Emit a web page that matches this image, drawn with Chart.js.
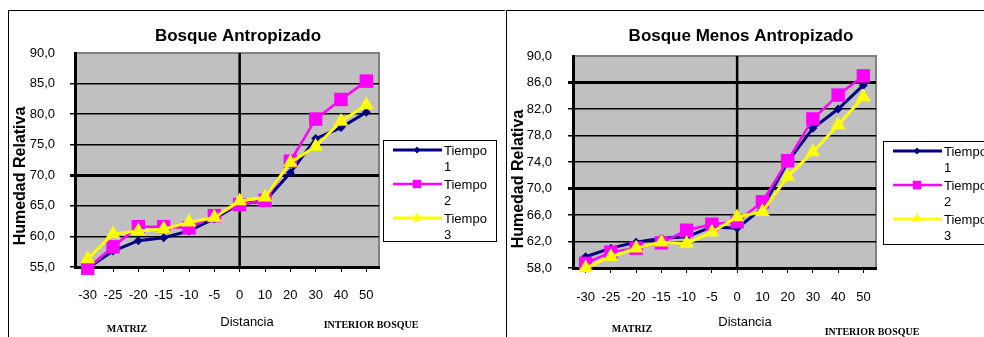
<!DOCTYPE html>
<html>
<head>
<meta charset="utf-8">
<script src="https://cdn.jsdelivr.net/npm/chart.js@4.4.0/dist/chart.umd.min.js"></script>
<style>
  body { margin: 0; background: #fff; width: 984px; height: 337px; overflow: hidden; position: relative; }
  .frame { position: absolute; border-left: 1px solid #000; border-top: 1px solid #000; }
  canvas { position: absolute; top: 0; }
</style>
</head>
<body>
<div class="frame" style="left:8px; top:10px; width:496px; height:340px;"></div>
<div class="frame" style="left:506px; top:10px; width:490px; height:340px;"></div>
<canvas id="left" width="503" height="337" style="left:0px"></canvas>
<canvas id="right" width="481" height="337" style="left:503px"></canvas>
<script>
// categories (Distancia)
const distancias = ['-30', '-25', '-20', '-15', '-10', '-5', '0', '10', '20', '30', '40', '50'];
const seriesNames = ['Tiempo 1', 'Tiempo 2', 'Tiempo 3'];

// Bosque Antropizado
const antropT1 = [54.8, 57.6, 59.3, 59.8, 60.9, 62.9, 65.3, 65.8, 70.4, 76.0, 77.8, 80.3];
const antropT2 = [54.8, 58.3, 61.6, 61.6, 61.4, 63.4, 65.2, 65.9, 72.3, 79.2, 82.4, 85.4];
const antropT3 = [56.3, 60.4, 60.9, 61.2, 62.3, 63.1, 65.8, 66.4, 72.1, 74.7, 78.8, 81.5];
const antropAxis = [55, 90, 5]; // min, max, step

// Bosque Menos Antropizado
const menosT1 = [59.7, 61.0, 61.9, 62.5, 62.7, 64.2, 64.0, 67.0, 74.0, 79.1, 82.0, 85.6];
const menosT2 = [58.7, 60.4, 61.0, 61.8, 63.7, 64.6, 65.0, 68.0, 74.2, 80.5, 84.1, 87.0];
const menosT3 = [58.0, 59.7, 61.0, 61.9, 61.7, 63.4, 65.7, 66.5, 71.8, 75.5, 79.6, 83.8];
const menosAxis = [58, 90, 4];

const SANS = '"Liberation Sans", Arial, sans-serif';
const SERIF = '"Liberation Serif", "Times New Roman", serif';

const styles = [
    { color: '#000080', width: 3, point: 'rectRot', radius: 4.5, legendRadius: 3.5 },
    { color: '#FF00FF', width: 2.5, point: 'rect', radius: 9.5, legendRadius: 6 },
    { color: '#FFFF00', width: 3, point: 'triangle', radius: 8.5, legendRadius: 5.5 },
];

// gray plot area + zero line + texts + legend
const decoPlugin = {
    id: 'deco',
    beforeDraw(chart) {
        const { ctx, chartArea: a } = chart;
        ctx.save();
        ctx.fillStyle = '#C0C0C0';
        ctx.fillRect(a.left, a.top, a.right - a.left, a.bottom - a.top);
        ctx.strokeStyle = '#808080';
        ctx.lineWidth = 2;
        ctx.beginPath();
        ctx.moveTo(a.left, a.top);
        ctx.lineTo(a.right, a.top);
        ctx.lineTo(a.right, a.bottom);
        ctx.stroke();
        ctx.restore();
    },
    beforeDatasetsDraw(chart) {
        const { ctx, chartArea: a } = chart;
        const x = chart.scales.x.getPixelForValue(distancias.indexOf('0'));
        ctx.save();
        ctx.strokeStyle = '#000';
        ctx.lineWidth = 2.5;
        ctx.beginPath();
        ctx.moveTo(x, a.top);
        ctx.lineTo(x, a.bottom);
        ctx.stroke();
        ctx.restore();
    },
    afterDraw(chart, args, o) {
        const { ctx } = chart;
        ctx.save();
        ctx.fillStyle = '#000';
        ctx.textAlign = 'center';
        ctx.textBaseline = 'middle';

        ctx.font = 'bold 17px ' + SANS;
        ctx.fillText(o.title, o.titleX, 36);

        ctx.font = '13px ' + SANS;
        ctx.fillText('Distancia', o.distX, 322);

        ctx.font = 'bold 10px ' + SERIF;
        ctx.fillText('MATRIZ', o.matX, 329);
        ctx.fillText('INTERIOR BOSQUE', o.intX, o.intY);

        ctx.save();
        ctx.translate(o.yTitleX, o.yTitleY);
        ctx.rotate(-Math.PI / 2);
        ctx.font = 'bold 16px ' + SANS;
        ctx.fillText('Humedad Relativa', 0, 0);
        ctx.restore();

        // legend
        const lg = o.legend;
        ctx.strokeStyle = '#000';
        ctx.lineWidth = 1;
        ctx.fillStyle = '#fff';
        ctx.fillRect(lg.x, lg.y, lg.w, lg.h);
        ctx.strokeRect(lg.x + 0.5, lg.y + 0.5, lg.w, lg.h);
        chart.data.datasets.forEach((ds, i) => {
            const st = styles[i];
            const y = lg.y + 10 + i * 34;
            ctx.strokeStyle = st.color;
            ctx.lineWidth = st.width;
            ctx.beginPath();
            ctx.moveTo(lg.x + 10, y);
            ctx.lineTo(lg.x + 59, y);
            ctx.stroke();
            ctx.fillStyle = st.color;
            Chart.helpers.drawPoint(ctx, { pointStyle: st.point, radius: st.legendRadius, borderWidth: 0 }, lg.x + 34, y);
            const parts = ds.label.split(' ');
            ctx.fillStyle = '#000';
            ctx.font = '13px ' + SANS;
            ctx.textAlign = 'left';
            ctx.fillText(parts[0], lg.x + 61, y + 1);
            ctx.fillText(parts[1], lg.x + 61, y + 17);
        });
        ctx.restore();
    }
};

function makeChart(id, series, axis, box, deco, thick) {
    const [min, max, step] = axis;
    return new Chart(document.getElementById(id), {
        type: 'line',
        data: {
            labels: distancias,
            datasets: series.map((values, i) => ({
                label: seriesNames[i],
                data: values,
                borderColor: styles[i].color,
                backgroundColor: styles[i].color,
                borderWidth: styles[i].width,
                pointStyle: styles[i].point,
                pointRadius: styles[i].radius,
                pointBorderWidth: 0,
                pointBackgroundColor: styles[i].color,
                tension: 0,
                clip: false,
                order: 3 - i,
            })),
        },
        plugins: [decoPlugin],
        options: {
            responsive: false,
            animation: false,
            layout: { padding: { top: box.top, right: box.right, left: 0, bottom: 0 } },
            plugins: {
                legend: { display: false },
                title: { display: false },
                tooltip: { enabled: false },
                deco: deco,
            },
            scales: {
                x: {
                    offset: true,
                    afterFit: (s) => { s.height = box.xHeight; },
                    grid: { drawOnChartArea: false, color: '#000', tickLength: 5, lineWidth: 1 },
                    border: { color: '#000', width: 3 },
                    ticks: { color: '#000', font: { family: SANS, size: 13 }, padding: box.xPad, maxRotation: 0, autoSkip: false },
                },
                y: {
                    min: min,
                    max: max,
                    afterFit: (s) => { s.width = box.yWidth; },
                    grid: {
                        color: (c) => (c.tick && c.tick.value === max ? 'rgba(0,0,0,0)' : '#000'),
                        lineWidth: (c) => (c.tick && thick.includes(c.tick.value) ? 3 : 1.5),
                        tickLength: 5,
                    },
                    border: { color: '#000', width: 3 },
                    ticks: {
                        stepSize: step,
                        color: '#000',
                        padding: box.yPad,
                        font: { family: SANS, size: 13 },
                        callback: (v) => v.toFixed(1).replace('.', ','),
                    },
                },
            },
        },
    });
}

makeChart('left', [antropT1, antropT2, antropT3], antropAxis,
    { top: 53, right: 124, xHeight: 70, yWidth: 75, xPad: 16, yPad: 15 },
    { title: 'Bosque Antropizado', titleX: 238, distX: 247, matX: 127, intX: 371, intY: 325,
      yTitleX: 21, yTitleY: 176, legend: { x: 383, y: 140, w: 113, h: 101 } },
    [70]);

makeChart('right', [menosT1, menosT2, menosT3], menosAxis,
    { top: 56, right: 108, xHeight: 69, yWidth: 70, xPad: 17, yPad: 16 },
    { title: 'Bosque Menos Antropizado', titleX: 238, distX: 242, matX: 129, intX: 369, intY: 332,
      yTitleX: 16, yTitleY: 179, legend: { x: 380, y: 141, w: 113, h: 103 } },
    [86, 70]);
</script>
</body>
</html>
